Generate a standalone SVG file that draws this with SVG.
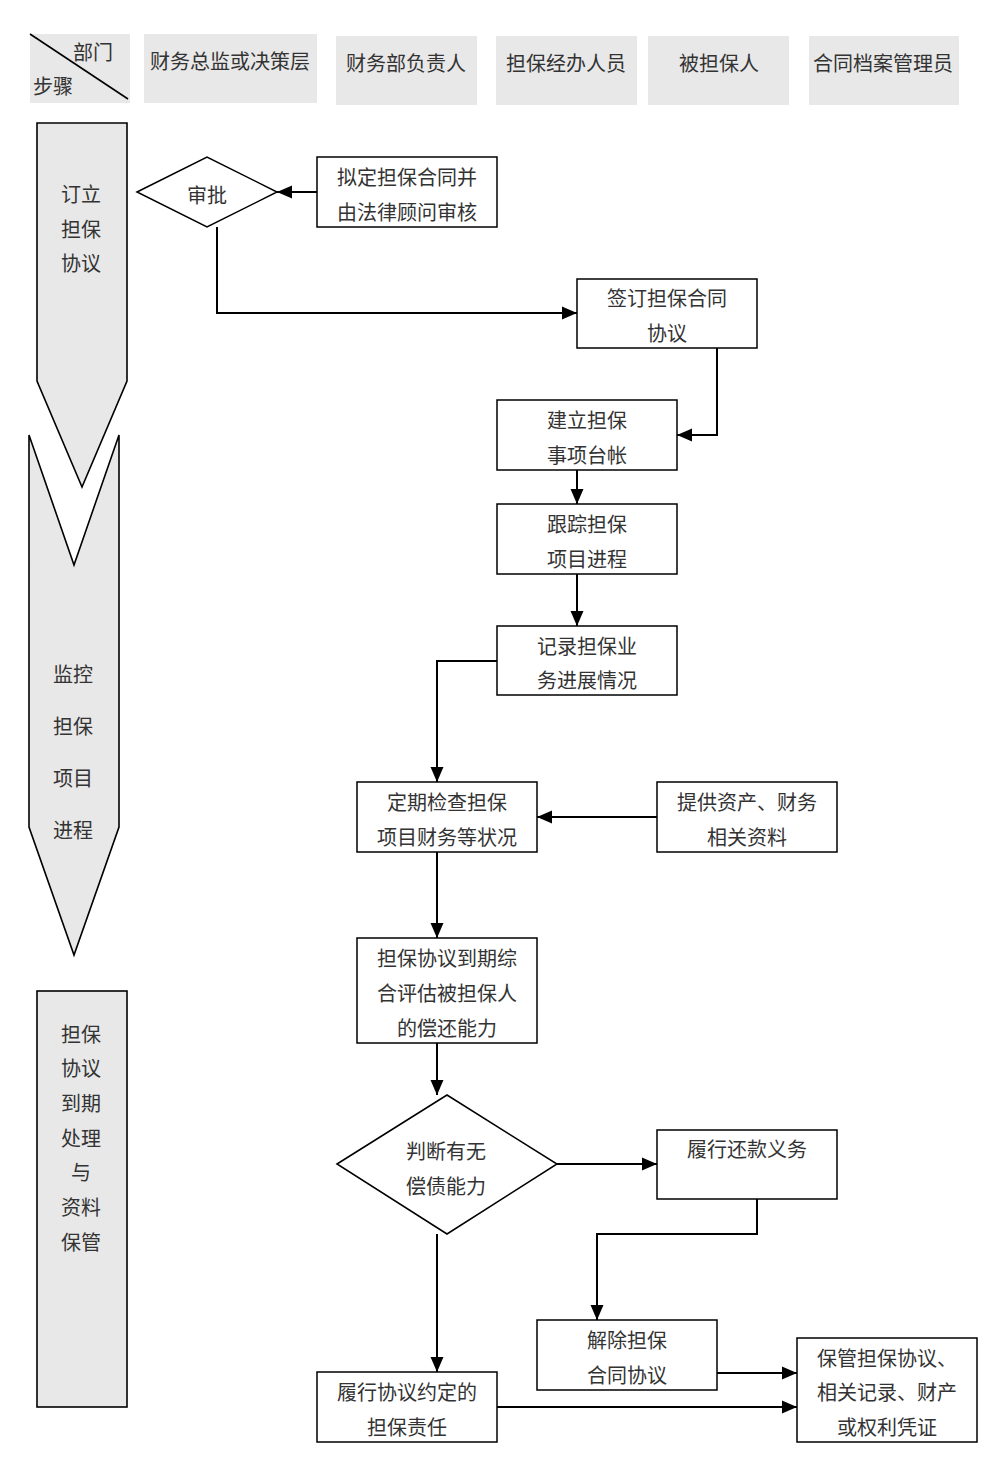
<svg xmlns="http://www.w3.org/2000/svg" width="998" height="1470" viewBox="0 0 998 1470">
<defs>
<style>
text{font-family:"Noto Sans CJK SC","Liberation Serif",sans-serif;font-size:20px;fill:#333;text-anchor:middle}
.hd{fill:#e8e8e8;stroke:none}
.ph{fill:#e8e8e8;stroke:#000;stroke-width:1.6}
.bx{fill:#fff;stroke:#000;stroke-width:1.5}
.cn{fill:none;stroke:#000;stroke-width:2}
.cn.a{marker-end:url(#ah)}
</style>
<marker id="ah" markerUnits="userSpaceOnUse" markerWidth="16" markerHeight="16" viewBox="0 0 16 16" refX="15" refY="8" orient="auto">
<path d="M0,1.5 L15,8 L0,14.5 Z" fill="#000"/>
</marker>
</defs>
<rect width="998" height="1470" fill="#fff"/>

<g id="header">
<rect class="hd" x="30" y="34" width="100" height="69"/>
<line x1="30" y1="34" x2="128" y2="99" stroke="#000" stroke-width="1.6"/>
<text x="93" y="60">部门</text>
<text x="53" y="94">步骤</text>
<rect class="hd" x="144" y="34" width="173" height="69"/>
<text x="230" y="69">财务总监或决策层</text>
<rect class="hd" x="336" y="36" width="141" height="69"/>
<text x="406" y="71">财务部负责人</text>
<rect class="hd" x="496" y="36" width="141" height="69"/>
<text x="566" y="71">担保经办人员</text>
<rect class="hd" x="648" y="36" width="141" height="69"/>
<text x="719" y="71">被担保人</text>
<rect class="hd" x="809" y="36" width="150" height="69"/>
<text x="883" y="71">合同档案管理员</text>
</g>

<g id="phase1">
<polygon class="ph" points="37,123 127,123 127,381 82,487 37,381"/>
<text x="81" y="202">订立</text>
<text x="81" y="237">担保</text>
<text x="81" y="271">协议</text>
</g>
<g id="phase2">
<polygon class="ph" points="29,435 74,565 119,435 119,827 74,955 29,827"/>
<text x="73" y="682">监控</text>
<text x="73" y="734">担保</text>
<text x="73" y="786">项目</text>
<text x="73" y="838">进程</text>
</g>
<g id="phase3">
<rect class="ph" x="37" y="991" width="90" height="416"/>
<text x="81" y="1042">担保</text>
<text x="81" y="1076">协议</text>
<text x="81" y="1111">到期</text>
<text x="81" y="1146">处理</text>
<text x="81" y="1180">与</text>
<text x="81" y="1215">资料</text>
<text x="81" y="1250">保管</text>
</g>

<g id="connectors">
<path class="cn a" d="M317,192 H277"/>
<path class="cn a" d="M217,227 V313 H577"/>
<path class="cn a" d="M717,348 V435 H677"/>
<path class="cn a" d="M577,470 V504"/>
<path class="cn a" d="M577,574 V626"/>
<path class="cn a" d="M497,661 H437 V782"/>
<path class="cn a" d="M657,817 H537"/>
<path class="cn a" d="M437,852 V938"/>
<path class="cn a" d="M437,1043 V1095"/>
<path class="cn a" d="M557,1164 H657"/>
<path class="cn a" d="M757,1199 V1234 H597 V1320"/>
<path class="cn a" d="M437,1234 V1372"/>
<path class="cn a" d="M717,1373 H797"/>
<path class="cn a" d="M497,1407 H797"/>
</g>

<g id="n-approve">
<polygon class="bx" points="137,192 207,157 277,192 207,227"/>
<text x="207" y="203">审批</text>
</g>
<g id="n-draft">
<rect class="bx" x="317" y="157" width="180" height="70"/>
<text x="407" y="185">拟定担保合同并</text>
<text x="407" y="220">由法律顾问审核</text>
</g>
<g id="n-sign">
<rect class="bx" x="577" y="279" width="180" height="69"/>
<text x="667" y="306">签订担保合同</text>
<text x="667" y="341">协议</text>
</g>
<g id="n-ledger">
<rect class="bx" x="497" y="400" width="180" height="70"/>
<text x="587" y="428">建立担保</text>
<text x="587" y="463">事项台帐</text>
</g>
<g id="n-track">
<rect class="bx" x="497" y="504" width="180" height="70"/>
<text x="587" y="532">跟踪担保</text>
<text x="587" y="567">项目进程</text>
</g>
<g id="n-record">
<rect class="bx" x="497" y="626" width="180" height="69"/>
<text x="587" y="654">记录担保业</text>
<text x="587" y="688">务进展情况</text>
</g>
<g id="n-check">
<rect class="bx" x="357" y="782" width="180" height="70"/>
<text x="447" y="810">定期检查担保</text>
<text x="447" y="845">项目财务等状况</text>
</g>
<g id="n-provide">
<rect class="bx" x="657" y="782" width="180" height="70"/>
<text x="747" y="810">提供资产、财务</text>
<text x="747" y="845">相关资料</text>
</g>
<g id="n-evaluate">
<rect class="bx" x="357" y="938" width="180" height="105"/>
<text x="447" y="966">担保协议到期综</text>
<text x="447" y="1001">合评估被担保人</text>
<text x="447" y="1036">的偿还能力</text>
</g>
<g id="n-judge">
<polygon class="bx" points="337,1164 447,1095 557,1164 447,1234"/>
<text x="446" y="1159">判断有无</text>
<text x="446" y="1194">偿债能力</text>
</g>
<g id="n-repay">
<rect class="bx" x="657" y="1130" width="180" height="69"/>
<text x="747" y="1157">履行还款义务</text>
</g>
<g id="n-release">
<rect class="bx" x="537" y="1320" width="180" height="70"/>
<text x="627" y="1348">解除担保</text>
<text x="627" y="1383">合同协议</text>
</g>
<g id="n-perform">
<rect class="bx" x="317" y="1372" width="180" height="70"/>
<text x="407" y="1400">履行协议约定的</text>
<text x="407" y="1435">担保责任</text>
</g>
<g id="n-keep">
<rect class="bx" x="797" y="1338" width="180" height="104"/>
<text x="817" y="1366" style="text-anchor:start">保管担保协议、</text>
<text x="887" y="1400">相关记录、财产</text>
<text x="887" y="1435">或权利凭证</text>
</g>
</svg>
